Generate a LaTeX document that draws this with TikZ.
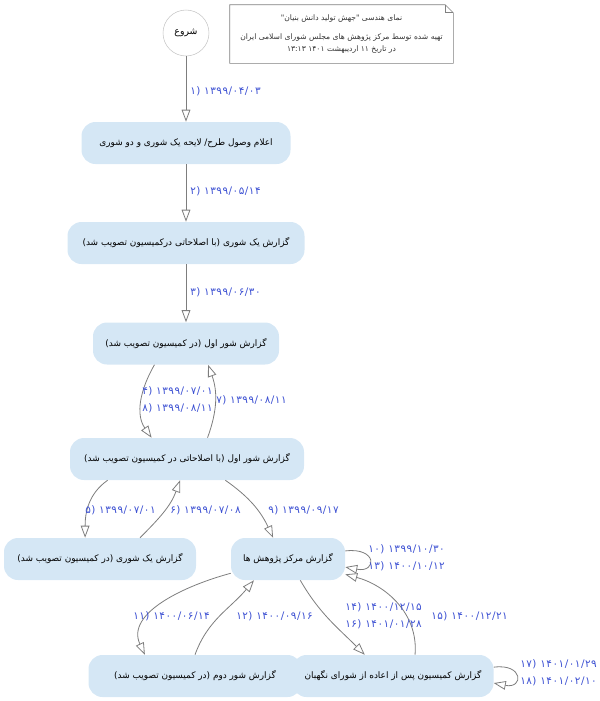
\documentclass[tikz,border=0pt]{standalone}
\usepackage{fontspec}
\newfontfamily\arabicfont[Script=Arabic]{DejaVu Sans}
\newfontfamily\datefont[Script=Arabic,LetterSpace=5]{DejaVu Sans}
\TeXXeTstate=1
\usetikzlibrary{arrows.meta,positioning}
\definecolor{boxblue}{RGB}{213,231,245}
\definecolor{edgegray}{RGB}{125,125,125}
\definecolor{dateblue}{RGB}{60,80,210}
\newcommand{\fa}[1]{{\arabicfont\beginR #1\endR}}
\newcommand{\fd}[1]{{\datefont\beginR #1\endR}}

\begin{document}
\begin{tikzpicture}[x=0.75pt,y=-0.75pt,
  box/.style={rectangle,rounded corners=10.5pt,fill=boxblue,minimum height=31.5pt,inner sep=0pt,font=\fontsize{6.7}{8}\selectfont},
  flow/.style={draw=edgegray,line width=0.6pt,-{Triangle[fill=white,length=9pt,width=6.5pt]}},
  date/.style={text=dateblue,anchor=west,inner sep=0pt,align=left,font=\fontsize{7.8}{12.5}\selectfont}]
\useasboundingbox (0,0) rectangle (600,701);

% start and note
\node[circle,draw=gray!45,fill=white,minimum size=34.5pt,inner sep=0pt,font=\fontsize{7}{9}\selectfont] (start) at (186,33) {\fa{شروع}};
\node[minimum width=167.25pt,minimum height=43.5pt,inner sep=0pt,align=center,text=black!80,font=\fontsize{5.7}{8.5}\selectfont] (note) at (341.5,34)
  {\fa{نمای هندسی "جهش تولید دانش بنیان"}\\[6pt]\fa{تهیه شده توسط مرکز پژوهش های مجلس شورای اسلامی ایران}\\\fa{در تاریخ ۱۱ اردیبهشت ۱۴۰۱ ۱۳:۱۳}};
\draw[gray] (note.north west) -- ([xshift=-6pt]note.north east) -- ([yshift=-6pt]note.north east) -- (note.south east) -- (note.south west) -- cycle;
\draw[gray] ([xshift=-6pt]note.north east) |- ([yshift=-6pt]note.north east);

% boxes
\node[box,minimum width=156.75pt] (recv) at (186,143) {\fa{اعلام وصول طرح/ لایحه یک شوری و دو شوری}};
\node[box,minimum width=177.75pt] (oneamend) at (186,243) {\fa{گزارش یک شوری (با اصلاحاتی درکمیسیون تصویب شد)}};
\node[box,minimum width=139.5pt] (first) at (186,343.5) {\fa{گزارش شور اول (در کمیسیون تصویب شد)}};
\node[box,minimum width=175.5pt] (firstamend) at (187,459) {\fa{گزارش شور اول (با اصلاحاتی در کمیسیون تصویب شد)}};
\node[box,minimum width=144pt] (one) at (100,559) {\fa{گزارش یک شوری (در کمیسیون تصویب شد)}};
\node[box,minimum width=85.5pt] (center) at (288,559) {\fa{گزارش مرکز پژوهش ها}};
\node[box,minimum width=159.75pt] (second) at (195,676) {\fa{گزارش شور دوم (در کمیسیون تصویب شد)}};
\node[box,minimum width=150.75pt] (council) at (393,676) {\fa{گزارش کمیسیون پس از اعاده از شورای نگهبان}};

% connectors
\draw[flow] (start) -- (recv);
\draw[flow] (recv) -- (oneamend);
\draw[flow] (oneamend) -- (first);
\draw[flow] (first.214) to[out=240,in=125] (firstamend.149);
\draw[flow] (firstamend.46) to[out=70,in=290] (first.316);
\draw[flow] (firstamend.195) to[out=215,in=90] (one.125);
\draw[flow] (one.28) to[out=45,in=250] (firstamend.252);
\draw[flow] (firstamend.331) to[out=-35,in=115] (center.125);
\draw[flow] (center.8) .. controls +(32,-4) and +(32,6) .. (center.352);
\draw[flow] (center.194) to[out=195,in=115] (second.157);
\draw[flow] (second.90) to[out=70,in=230] (center.212);
\draw[flow] (center.300) to[out=-60,in=135] (council.143);
\draw[flow] (council.44) to[out=85,in=-15] (center.345);
\draw[flow] (council.5) .. controls +(30,-4) and +(30,6) .. (council.356);

% dates
\node[date] (d1) at (190,91) {\fd{۱۳۹۹/۰۴/۰۳ (۱}};
\node[date] (d2) at (190,191) {\fd{۱۳۹۹/۰۵/۱۴ (۲}};
\node[date] (d3) at (190,292) {\fd{۱۳۹۹/۰۶/۳۰ (۳}};
\node[date] (d4) at (142,400) {\fd{۱۳۹۹/۰۷/۰۱ (۴}\\\fd{۱۳۹۹/۰۸/۱۱ (۸}};
\node[date] (d7) at (216,400) {\fd{۱۳۹۹/۰۸/۱۱ (۷}};
\node[date] (d5) at (85,510) {\fd{۱۳۹۹/۰۷/۰۱ (۵}};
\node[date] (d6) at (170,510) {\fd{۱۳۹۹/۰۷/۰۸ (۶}};
\node[date] (d9) at (268,510) {\fd{۱۳۹۹/۰۹/۱۷ (۹}};
\node[date] (d10) at (368,557.5) {\fd{۱۳۹۹/۱۰/۳۰ (۱۰}\\\fd{۱۴۰۰/۱۰/۱۲ (۱۳}};
\node[date] (d11) at (133,616) {\fd{۱۴۰۰/۰۶/۱۴ (۱۱}};
\node[date] (d12) at (236,616) {\fd{۱۴۰۰/۰۹/۱۶ (۱۲}};
\node[date] (d14) at (345,615.5) {\fd{۱۴۰۰/۱۲/۱۵ (۱۴}\\\fd{۱۴۰۱/۰۱/۲۸ (۱۶}};
\node[date] (d15) at (431,616) {\fd{۱۴۰۰/۱۲/۲۱ (۱۵}};
\node[date] (d17) at (520,673) {\fd{۱۴۰۱/۰۱/۲۹ (۱۷}\\\fd{۱۴۰۱/۰۲/۱۰ (۱۸}};
\end{tikzpicture}
\end{document}
